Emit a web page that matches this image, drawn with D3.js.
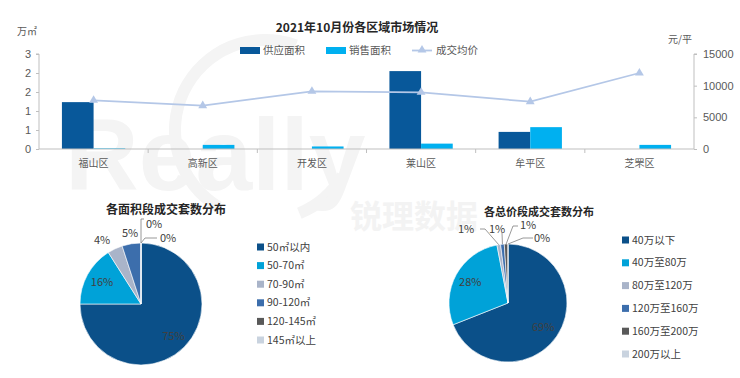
<!DOCTYPE html>
<html>
<head>
<meta charset="utf-8">
<script src="https://cdn.jsdelivr.net/npm/d3@7"></script>
<style>
  body { margin: 0; background: #fff; }
  svg { font-family: "Noto Sans CJK SC", "Noto Sans", sans-serif; }
</style>
</head>
<body>
<div id="chart"></div>
<script>
// top chart data
const categories = ["福山区", "高新区", "开发区", "莱山区", "牟平区", "芝罘区"];
const seriesNames = ["供应面积", "销售面积"];
const supplyArea = [1.48, 0, 0, 2.46, 0.54, 0];
const salesArea = [0.02, 0.13, 0.08, 0.17, 0.69, 0.13];
const avgPrice = [7690, 6840, 9110, 8950, 7470, 12000];
const leftTicks = [0, 0.6, 1.2, 1.8, 2.4, 3];
const rightTicks = [0, 5000, 10000, 15000];

// pie data
const areaLabels = ["50㎡以内", "50-70㎡", "70-90㎡", "90-120㎡", "120-145㎡", "145㎡以上"];
const areaShare = [75, 16, 4, 5, 0, 0];
const priceLabels = ["40万以下", "40万至80万", "80万至120万", "120万至160万", "160万至200万", "200万以上"];
const priceShare = [69, 28, 1, 1, 1, 0];

const W = 740, H = 378;
const axisColor = "#bfbfbf";
const textColor = "#595959";
const barColors = ["#08589a", "#00b0f0"];
const lineColor = "#b4c7e7";
const pieColors = ["#0b5089", "#00a2d8", "#a9b4c9", "#3c6eac", "#595959", "#c9d3df"];

const svg = d3.select("#chart").append("svg")
  .attr("width", W)
  .attr("height", H);

// faint watermark behind everything
const wm = svg.append("g").attr("class", "watermark");
wm.append("path")
  .attr("transform", "translate(265,130)")
  .attr("d", d3.arc().innerRadius(84).outerRadius(96).startAngle(-2.6).endAngle(0.35)())
  .attr("fill", "#f4f4f4");
wm.append("path")
  .attr("transform", "translate(265,130)")
  .attr("d", d3.arc().innerRadius(84).outerRadius(96).startAngle(2.1).endAngle(2.75)())
  .attr("fill", "#f4f4f4");
wm.append("text")
  .attr("x", 65).attr("y", 190)
  .attr("font-family", "Liberation Sans, sans-serif")
  .attr("font-weight", "bold")
  .attr("font-size", 102)
  .attr("fill", "#f4f4f4")
  .text("Really");
wm.append("text")
  .attr("x", 350).attr("y", 228)
  .attr("font-weight", "bold")
  .attr("font-size", 32)
  .attr("fill", "#f3f3f3")
  .text("锐理数据");

// ---- top combo chart ----
const plot = { left: 39, right: 694, top: 54, bottom: 149 };

const x = d3.scaleBand()
  .domain(categories)
  .range([plot.left, plot.right])
  .padding(0);

const xSub = d3.scaleBand()
  .domain(seriesNames)
  .range([x.bandwidth() * 0.21, x.bandwidth() * 0.79]);

const yLeft = d3.scaleLinear().domain([0, 3]).range([plot.bottom, plot.top]);
const yRight = d3.scaleLinear().domain([0, 15000]).range([plot.bottom, plot.top]);

svg.append("text")
  .attr("x", 357).attr("y", 32)
  .attr("text-anchor", "middle")
  .attr("font-size", 12)
  .attr("font-weight", "bold")
  .attr("fill", "#262626")
  .text("2021年10月份各区域市场情况");

svg.append("text")
  .attr("x", 17).attr("y", 35)
  .attr("font-size", 10)
  .attr("fill", textColor)
  .text("万㎡");

svg.append("text")
  .attr("x", 668).attr("y", 43)
  .attr("font-size", 10)
  .attr("fill", textColor)
  .text("元/平");

function styleAxis(g) {
  g.select(".domain").attr("stroke", axisColor);
  g.selectAll(".tick line").attr("stroke", axisColor);
  g.selectAll(".tick text").attr("fill", textColor).attr("font-size", 11)
    .attr("font-family", "Liberation Sans, sans-serif");
}

svg.append("g")
  .attr("transform", `translate(${plot.left},0)`)
  .call(d3.axisLeft(yLeft).tickValues(leftTicks).tickFormat(d3.format(".0f")).tickSize(3).tickPadding(5))
  .call(styleAxis)
  .call(g => g.select(".domain").attr("d", `M-3,${plot.top}H0V${plot.bottom}`));

svg.append("g")
  .attr("transform", `translate(${plot.right},0)`)
  .call(d3.axisRight(yRight).tickValues(rightTicks).tickFormat(d3.format("d")).tickSize(3).tickPadding(6))
  .call(styleAxis)
  .call(g => g.select(".domain").attr("d", `M3,${plot.top}H0V${plot.bottom}`));

// bars
const barData = categories.map((c, i) => ({ cat: c, values: [supplyArea[i], salesArea[i]] }));
const groups = svg.append("g").selectAll("g")
  .data(barData)
  .join("g")
  .attr("transform", d => `translate(${x(d.cat)},0)`);

groups.selectAll("rect")
  .data(d => d.values.map((v, k) => ({ key: seriesNames[k], v: v, k: k })))
  .join("rect")
  .attr("x", d => xSub(d.key))
  .attr("width", xSub.bandwidth())
  .attr("y", d => yLeft(d.v))
  .attr("height", d => plot.bottom - yLeft(d.v))
  .attr("fill", d => barColors[d.k]);

// x axis with category boundaries
const xAxisG = svg.append("g").attr("transform", `translate(0,${plot.bottom})`);
xAxisG.append("line")
  .attr("x1", plot.left).attr("x2", plot.right)
  .attr("stroke", axisColor);
xAxisG.selectAll("line.bound")
  .data(categories.slice(1))
  .join("line")
  .attr("class", "bound")
  .attr("x1", d => x(d)).attr("x2", d => x(d))
  .attr("y1", 0).attr("y2", 4)
  .attr("stroke", axisColor);
xAxisG.selectAll("text")
  .data(categories)
  .join("text")
  .attr("x", d => x(d) + x.bandwidth() / 2)
  .attr("y", 18)
  .attr("text-anchor", "middle")
  .attr("font-size", 10)
  .attr("fill", textColor)
  .text(d => d);

// price line
const line = d3.line()
  .x((d, i) => x(categories[i]) + x.bandwidth() / 2)
  .y(d => yRight(d));

svg.append("path")
  .datum(avgPrice)
  .attr("d", line)
  .attr("fill", "none")
  .attr("stroke", lineColor)
  .attr("stroke-width", 1.8);

const tri = d3.symbol().type(d3.symbolTriangle).size(34);
svg.append("g").selectAll("path")
  .data(avgPrice)
  .join("path")
  .attr("transform", (d, i) => `translate(${x(categories[i]) + x.bandwidth() / 2},${yRight(d)})`)
  .attr("d", tri)
  .attr("fill", lineColor);

// legend
const legend = svg.append("g").attr("class", "legend");
const legendX = [240, 326];
seriesNames.forEach((name, k) => {
  legend.append("rect")
    .attr("x", legendX[k]).attr("y", 47)
    .attr("width", 20).attr("height", 7)
    .attr("fill", barColors[k]);
  legend.append("text")
    .attr("x", legendX[k] + 23).attr("y", 54)
    .attr("font-size", 10.5)
    .attr("fill", textColor)
    .text(name);
});
legend.append("line")
  .attr("x1", 412).attr("x2", 432).attr("y1", 50.5).attr("y2", 50.5)
  .attr("stroke", lineColor).attr("stroke-width", 1.8);
legend.append("path")
  .attr("transform", "translate(422,50)")
  .attr("d", tri)
  .attr("fill", lineColor);
legend.append("text")
  .attr("x", 436).attr("y", 54)
  .attr("font-size", 10.5)
  .attr("fill", textColor)
  .text("成交均价");

// ---- pies ----
function drawPie(opts) {
  const g = svg.append("g").attr("transform", `translate(${opts.cx},${opts.cy})`);
  const pie = d3.pie().sort(null).value(d => d)(opts.values);
  const arc = d3.arc().innerRadius(0).outerRadius(opts.r);

  g.selectAll("path")
    .data(pie)
    .join("path")
    .attr("d", arc)
    .attr("fill", (d, i) => pieColors[i])
    .attr("stroke", "#fff")
    .attr("stroke-width", 0.6);

  pie.forEach((d, i) => {
    const lay = opts.labels[i];
    const mid = (d.startAngle + d.endAngle) / 2;
    let lx, ly;
    if (lay.inside) {
      lx = Math.sin(mid) * opts.r * lay.inside;
      ly = -Math.cos(mid) * opts.r * lay.inside;
    } else {
      lx = lay.at[0];
      ly = lay.at[1];
    }
    if (lay.leader) {
      const pts = [[Math.sin(mid) * opts.r, -Math.cos(mid) * opts.r]].concat(lay.leader);
      g.append("path")
        .attr("d", d3.line()(pts))
        .attr("fill", "none")
        .attr("stroke", "#7f7f7f")
        .attr("stroke-width", 0.8);
    }
    g.append("text")
      .attr("x", lx).attr("y", ly)
      .attr("dy", "0.35em")
      .attr("text-anchor", "middle")
      .attr("font-size", 11)
      .attr("fill", "#404040")
      .text(opts.values[i] + "%");
  });

  svg.append("text")
    .attr("x", opts.titleX).attr("y", opts.titleY)
    .attr("text-anchor", "middle")
    .attr("font-size", opts.titleSize)
    .attr("font-weight", "bold")
    .attr("fill", "#262626")
    .text(opts.title);

  const lg = svg.append("g");
  opts.names.forEach((name, i) => {
    const yy = opts.legY + i * opts.legStep;
    lg.append("rect")
      .attr("x", opts.legX).attr("y", yy - 3.5)
      .attr("width", 7).attr("height", 7)
      .attr("fill", pieColors[i]);
    lg.append("text")
      .attr("x", opts.legX + 10).attr("y", yy)
      .attr("dy", "0.35em")
      .attr("font-size", 10.5)
      .attr("fill", "#404040")
      .text(name);
  });
}

drawPie({
  cx: 141, cy: 304, r: 61,
  values: areaShare, names: areaLabels,
  title: "各面积段成交套数分布", titleX: 166, titleY: 214, titleSize: 12,
  legX: 257, legY: 247, legStep: 18.6,
  labels: [
    { inside: 0.75 },
    { inside: 0.73 },
    { at: [-39, -64] },
    { at: [-11, -71] },
    { at: [13, -80], leader: [[0, -85], [3, -85]] },
    { at: [27, -66], leader: [[4, -66], [16, -66]] }
  ]
});

drawPie({
  cx: 508, cy: 303, r: 59,
  values: priceShare, names: priceLabels,
  title: "各总价段成交套数分布", titleX: 539, titleY: 216, titleSize: 11,
  legX: 622, legY: 240, legStep: 22.8,
  labels: [
    { inside: 0.72 },
    { inside: 0.73 },
    { at: [-42, -74], leader: [[-23, -74], [-28, -74]] },
    { at: [-11, -74], leader: [[-6, -70]] },
    { at: [20, -78], leader: [[5, -77], [10, -77]] },
    { at: [34, -65], leader: [[15, -65], [25, -65]] }
  ]
});
</script>
</body>
</html>
